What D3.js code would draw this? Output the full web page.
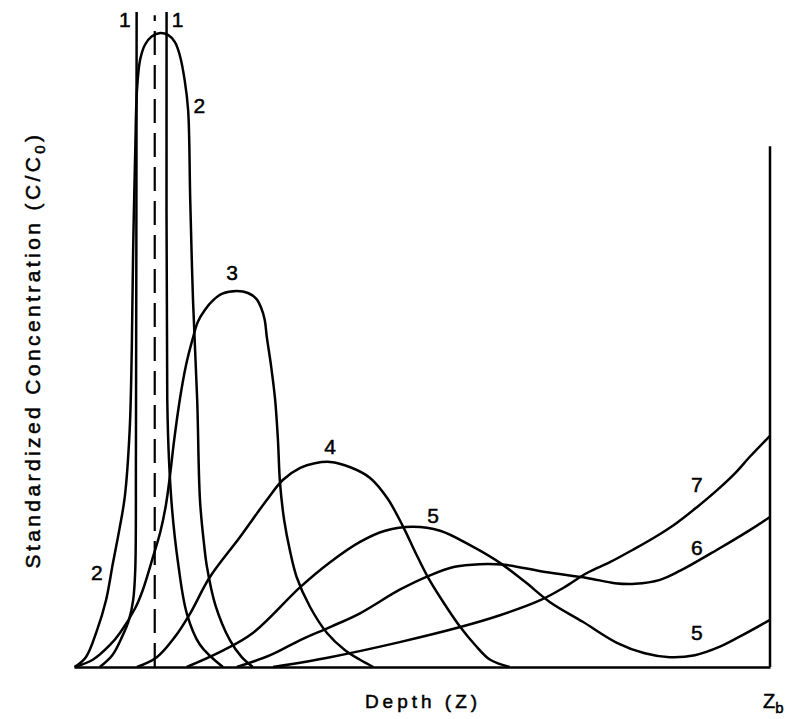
<!DOCTYPE html>
<html>
<head>
<meta charset="utf-8">
<script src="https://cdn.jsdelivr.net/npm/d3@7"></script>
<style>
	body { margin: 0; background: #fff; }
	svg { display: block; }
	text { font-family: "Liberation Sans", Arial, Helvetica, sans-serif; fill: #000; stroke: #000; stroke-width: 0.5px; }
</style>
</head>
<body>
<div id="chart"></div>
<script>
// depth in % of Zb, concentration in % of the plotted height
const curve1Left = [[3.7,0],[5.5,1.8],[6.9,4.6],[7.9,7.2],[8.5,10.2],[8.8,14.8],[8.9,33.1],[9.0,100]];
const curve1Right = [[13.3,100],[13.4,40.8],[13.65,31.6],[14.1,24.0],[14.9,16.3],[16.2,8.2],[18.1,3.4],[21.4,0]];
const curve2 = [[0.1,0],[1.7,1.5],[3.3,5.6],[4.6,10.2],[5.6,15.9],[6.5,20.9],[7.3,26.0],[8.0,36.2],[8.3,48.4],[8.5,63.7],
	[8.8,78.9],[9.05,88.1],[9.5,92.7],[10.2,95.0],[11.2,96.3],[12.4,96.8],[13.5,96.5],[14.5,95.4],[15.2,93.4],[15.9,89.6],
	[16.4,85.0],[16.7,71.3],[17.1,56.0],[17.7,40.8],[18.1,25.5],[18.7,18.6],[19.1,15.3],[20.3,9.5],[22.4,4.1],[24.1,1.5],[25.7,0]];
const curve3 = [[0.1,0],[2.7,1.1],[5.2,3.4],[6.6,5.2],[8.8,9.0],[9.9,11.8],[11.35,16.8],[12.4,20.6],[13.2,24.7],[13.8,29.3],
	[14.4,34.7],[15.2,40.8],[16.1,46.1],[17.0,49.9],[17.8,52.7],[18.8,54.5],[20.0,56.0],[21.3,57.0],[23.4,57.4],[25.0,57.1],
	[26.2,56.2],[26.9,54.8],[27.4,53.0],[27.7,50.4],[28.3,46.1],[28.9,40.8],[29.3,34.7],[29.6,28.1],[30.2,22.4],[31.0,17.9],
	[32.0,13.7],[33.9,9.2],[36.35,5.2],[38.9,2.6],[41.1,1.1],[43.0,0]];
const curve4 = [[9.05,0],[11.9,1.5],[14.5,4.6],[16.7,8.2],[19.5,13.7],[23.85,19.85],[27.7,25.5],[30.0,28.55],[32.5,30.4],
	[34.6,31.1],[36.8,31.3],[39.7,30.5],[42.5,28.9],[45.0,25.8],[47.3,21.4],[49.0,17.6],[50.9,13.6],[53.3,9.5],[55.5,6.1],
	[57.6,3.4],[59.8,1.1],[62.6,0]];
const curve5 = [[16.2,0],[21.0,2.3],[25.7,5.2],[32.5,12.2],[36.8,16.0],[41.1,19.1],[44.7,20.8],[48.7,21.4],[52.6,20.8],
	[56.9,18.6],[61.2,15.9],[64.8,13.0],[68.4,9.9],[73.1,6.9],[78.0,3.7],[82.0,2.1],[85.6,1.5],[89.2,1.8],[92.8,3.1],
	[96.1,4.9],[100,7.2]];
const curve6 = [[23.4,0],[28.2,1.8],[32.5,4.1],[36.8,6.1],[41.1,8.2],[46.8,11.8],[51.15,14.0],[54.7,15.3],[58.3,15.7],
	[61.9,15.6],[67.7,14.5],[73.7,13.6],[77.7,12.8],[80.6,12.7],[84.2,13.3],[87.1,14.7],[92.4,17.9],[97.1,20.9],[100,22.9]];
const curve7 = [[28.6,0],[36.8,1.5],[46.8,3.8],[55.5,6.1],[61.2,7.9],[67.0,10.2],[70.5,12.2],[73.7,14.35],[77.0,16.0],
	[80.3,17.9],[83.5,19.85],[86.6,22.0],[89.5,24.4],[92.4,27.0],[95.0,29.6],[97.1,32.1],[100,35.3]];
const centreLine = [[11.6,0],[11.6,99.5]];
const boundaryLine = [[100,0],[100,79.5]];
const curveLabels = [
	{text: "1", x: 7.3, y: 98.8},
	{text: "1", x: 14.9, y: 98.8},
	{text: "2", x: 18.0, y: 85.8},
	{text: "2", x: 3.3, y: 14.5},
	{text: "3", x: 22.7, y: 60.2},
	{text: "4", x: 36.8, y: 33.6},
	{text: "5", x: 51.6, y: 23.2},
	{text: "7", x: 89.5, y: 27.8},
	{text: "6", x: 89.5, y: 18.2},
	{text: "5", x: 89.5, y: 5.3}
];
const xTitle = "Depth (Z)";
const yTitle = "Standardized Concentration (C/C";

var width = 787;
var height = 719;
var margin = {top: 12, right: 17, bottom: 52, left: 74};

var svg = d3.select("#chart")
	.append("svg")
		.attr("width", width)
		.attr("height", height);

var x = d3.scaleLinear()
	.domain([0, 100])
	.range([margin.left, width - margin.right]);
var y = d3.scaleLinear()
	.domain([0, 100])
	.range([height - margin.bottom, margin.top]);

var line = d3.line()
	.x(function(d) { return x(d[0]); })
	.y(function(d) { return y(d[1]); })
	.curve(d3.curveCatmullRom.alpha(0.5));
var straight = d3.line()
	.x(function(d) { return x(d[0]); })
	.y(function(d) { return y(d[1]); });

// baseline only, no ticks
var xAxis = svg.append("g")
	.attr("transform", "translate(0," + y(0) + ")")
	.call(d3.axisBottom(x).tickValues([]).tickSizeOuter(0));
xAxis.select(".domain")
	.attr("stroke", "#000")
	.attr("stroke-width", 2.5);

svg.append("path")
	.attr("d", straight(boundaryLine))
	.attr("fill", "none")
	.attr("stroke", "#000")
	.attr("stroke-width", 2.5);

svg.append("path")
	.attr("d", straight(centreLine))
	.attr("fill", "none")
	.attr("stroke", "#000")
	.attr("stroke-width", 2.2)
	.attr("stroke-dasharray", "24,10");

svg.selectAll("path.curve")
	.data([curve1Left, curve1Right, curve2, curve3, curve4, curve5, curve6, curve7])
	.enter()
	.append("path")
		.attr("class", "curve")
		.attr("d", line)
		.attr("fill", "none")
		.attr("stroke", "#000")
		.attr("stroke-width", 2.5)
		.attr("stroke-linejoin", "round");

svg.selectAll("text.curve-label")
	.data(curveLabels)
	.enter()
	.append("text")
		.attr("class", "curve-label")
		.attr("x", function(d) { return x(d.x); })
		.attr("y", function(d) { return y(d.y); })
		.attr("dy", "0.36em")
		.attr("text-anchor", "middle")
		.style("font-size", "21px")
		.text(function(d) { return d.text; });

svg.append("text")
	.attr("x", 423)
	.attr("y", 708)
	.attr("text-anchor", "middle")
	.style("font-size", "19px")
	.style("letter-spacing", "4px")
	.text(xTitle);

var zb = svg.append("text")
	.attr("x", x(100) - 7)
	.attr("y", 708)
	.style("font-size", "20px");
zb.append("tspan").text("Z");
zb.append("tspan").attr("dy", 5).style("font-size", "15px").text("b");

var yt = svg.append("text")
	.attr("transform", "translate(40,350) rotate(-90)")
	.attr("text-anchor", "middle")
	.style("font-size", "21px")
	.style("letter-spacing", "3.4px");
yt.append("tspan").text(yTitle);
yt.append("tspan").attr("dy", 5).style("font-size", "15px").text("0");
yt.append("tspan").attr("dy", -5).text(")");
</script>
</body>
</html>
